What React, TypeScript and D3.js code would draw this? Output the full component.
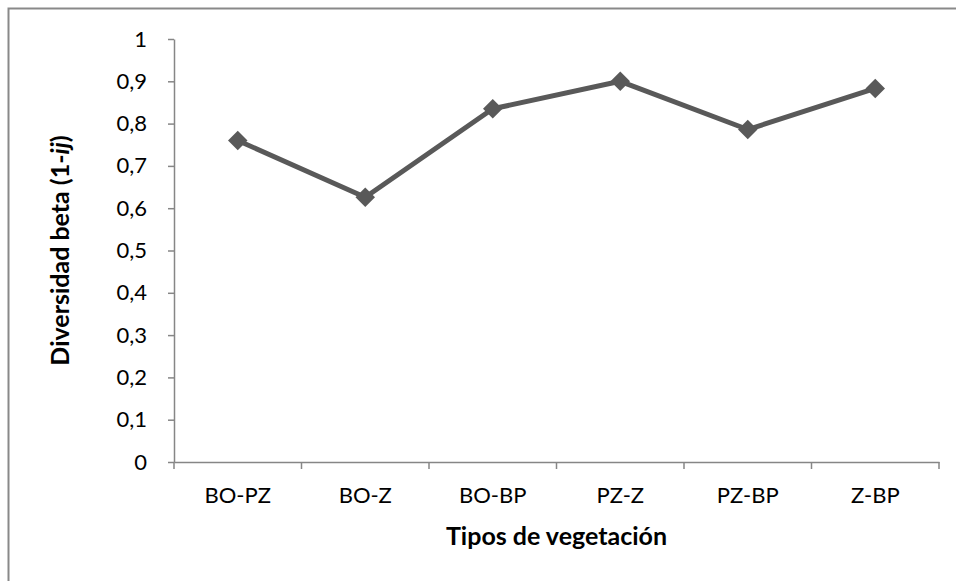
import React, { useEffect, useRef } from "react";
import * as d3 from "d3";

const categories = ["BO-PZ", "BO-Z", "BO-BP", "PZ-Z", "PZ-BP", "Z-BP"];
const values = [0.76, 0.626, 0.835, 0.9, 0.786, 0.883];
const yTicks = [0, 0.1, 0.2, 0.3, 0.4, 0.5, 0.6, 0.7, 0.8, 0.9, 1];

const W = 956;
const H = 581;
const FONT = "Lato, 'Liberation Sans', Arial, sans-serif";

export default function App() {
  const ref = useRef<SVGSVGElement>(null);

  useEffect(() => {
    const svg = d3.select(ref.current);
    svg.selectAll("*").remove();

    const left = 174, right = 939, top = 39, bottom = 462;

    // outer chart frame (right/bottom edges fall outside the picture)
    svg.append("rect")
      .attr("x", 8.5).attr("y", 8.5)
      .attr("width", W + 20).attr("height", H + 20)
      .attr("fill", "#fff").attr("stroke", "#898989").attr("stroke-width", 2);

    const x = d3.scaleBand().domain(categories).range([left, right]);
    const y = d3.scaleLinear().domain([0, 1]).range([bottom, top]);

    const axisColor = "#868686";

    const yAxis = svg.append("g")
      .attr("transform", `translate(${left},0)`)
      .call(d3.axisLeft(y).tickValues(yTicks).tickSize(6).tickSizeOuter(0).tickPadding(21)
        .tickFormat((d) => d3.format("")(+d).replace(".", ",")));
    yAxis.select(".domain").attr("stroke", axisColor).attr("stroke-width", 1.5);
    yAxis.selectAll(".tick line").attr("stroke", axisColor).attr("stroke-width", 1.5);
    yAxis.selectAll(".tick text")
      .attr("fill", "#000").style("font-family", FONT).style("font-size", "22px");

    const xAxis = svg.append("g")
      .attr("transform", `translate(0,${bottom})`)
      .call(d3.axisBottom(x).tickSize(0).tickPadding(25));
    xAxis.select(".domain").attr("stroke", axisColor).attr("stroke-width", 1.5);
    xAxis.selectAll(".tick text")
      .attr("fill", "#000").style("font-family", FONT).style("font-size", "22px");

    // tick marks on band boundaries
    const bounds = categories.map((c) => x(c) as number).concat([right]);
    svg.append("g").selectAll("line").data(bounds).enter().append("line")
      .attr("x1", (d) => d).attr("x2", (d) => d)
      .attr("y1", bottom).attr("y2", bottom + 7)
      .attr("stroke", axisColor).attr("stroke-width", 1.5);

    const cx = (i: number) => (x(categories[i]) as number) + x.bandwidth() / 2;

    const line = d3.line<number>().x((_, i) => cx(i)).y((d) => y(d));
    svg.append("path")
      .datum(values)
      .attr("d", line)
      .attr("fill", "none")
      .attr("stroke", "#595959")
      .attr("stroke-width", 5)
      .attr("stroke-linejoin", "round");

    svg.append("g").selectAll("path").data(values).enter().append("path")
      .attr("d", d3.symbol().type(d3.symbolSquare).size(190)())
      .attr("transform", (d, i) => `translate(${cx(i)},${y(d)}) rotate(45)`)
      .attr("fill", "#595959");

    svg.append("text")
      .attr("x", (left + right) / 2).attr("y", 545)
      .attr("text-anchor", "middle")
      .style("font-family", FONT).style("font-size", "25px").style("font-weight", "bold")
      .text("Tipos de vegetación");

    const yl = svg.append("text")
      .attr("transform", `translate(69,${(top + bottom) / 2}) rotate(-90)`)
      .attr("text-anchor", "middle")
      .style("font-family", FONT).style("font-size", "25px").style("font-weight", "bold");
    yl.append("tspan").text("Diversidad beta (1-");
    yl.append("tspan").style("font-style", "italic").text("ij");
    yl.append("tspan").text(")");
  }, []);

  return (
    <svg ref={ref} width={W} height={H}
      style={{ position: "absolute", left: 0, top: 0, background: "#fff" }} />
  );
}
